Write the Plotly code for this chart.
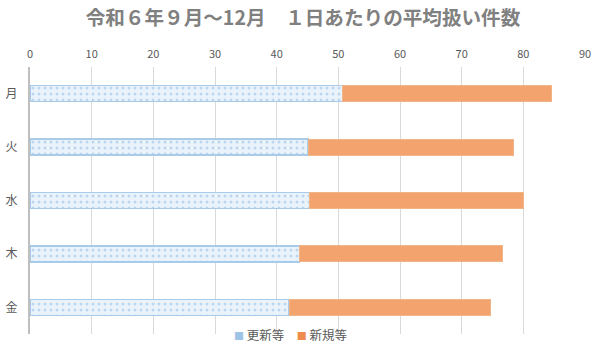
import plotly.graph_objects as go

days = ["月", "火", "水", "木", "金"]
renewal = [50.7, 45.1, 45.4, 43.7, 42.0]
new = [33.9, 33.3, 34.6, 33.0, 32.6]
x_ticks = [0, 10, 20, 30, 40, 50, 60, 70, 80, 90]
series_names = ["更新等", "新規等"]
legend_colors = ["#9DC3E6", "#ED8C4E"]

font_family = "Noto Sans CJK JP"

fig = go.Figure()
fig.add_trace(go.Bar(
    y=days, x=renewal, orientation="h", name=series_names[0], showlegend=False,
    marker=dict(
        color="#E6F0FA",
        line=dict(color="#A9CBEA", width=1.5),
        pattern=dict(shape=".", fgcolor="#8FB9E2", bgcolor="#EAF3FB", size=6, solidity=0.2),
    ),
    width=0.3,
))
fig.add_trace(go.Bar(
    y=days, x=new, orientation="h", name=series_names[1], showlegend=False,
    marker=dict(color="#F3A46E", line=dict(color="#F0B487", width=1)),
    width=0.3,
))

legend_text = "　".join(
    f"<span style='color:{c};font-size:10px'>■</span> {n}" for n, c in zip(series_names, legend_colors)
)
fig.add_annotation(
    text=legend_text, xref="paper", yref="paper", x=0.47, y=16 / 283,
    xanchor="center", yanchor="middle", showarrow=False,
    font=dict(size=12.5, color="#595959", family=font_family),
)

fig.update_layout(
    barmode="stack",
    width=600, height=350,
    margin=dict(l=30, r=15, t=67, b=0),
    paper_bgcolor="white", plot_bgcolor="white",
    font=dict(family=font_family, color="#595959", size=11),
    title=dict(
        text="令和６年９月～12月　１日あたりの平均扱い件数",
        x=0.505, xanchor="center", y=0.947, yanchor="middle",
        font=dict(family=font_family, size=19.6, color="#808080", weight="bold"),
    ),
    showlegend=False,
    bargap=0.7,
)
fig.update_xaxes(
    side="top", range=[0, 90], tickvals=x_ticks, showgrid=True,
    gridcolor="#D9D9D9", gridwidth=1, zeroline=False, showline=False,
    ticks="", tickfont=dict(size=11, color="#595959"), ticklabelstandoff=6,
    automargin=False,
)
fig.update_yaxes(
    domain=[16 / 283, 1],
    categoryorder="array", categoryarray=days, autorange="reversed",
    showgrid=False, showline=True, linecolor="#BFBFBF", linewidth=2,
    ticks="", tickfont=dict(size=12, color="#595959"), ticklabelstandoff=8,
    automargin=False,
)

fig.write_html("out.html")
